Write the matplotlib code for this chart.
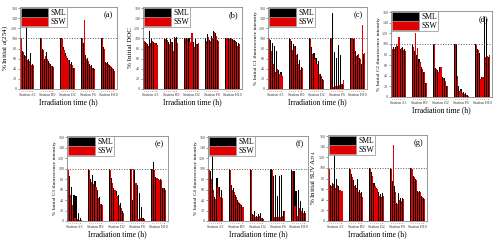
import numpy as np
import matplotlib
matplotlib.use('Agg')
import matplotlib.pyplot as plt
import matplotlib.patches as mpatches

plt.rcParams['font.family'] = ['Liberation Serif', 'DejaVu Serif']
plt.rcParams['mathtext.fontset'] = 'stix'

STATIONS = ['Station A3', 'Station B9', 'Station D2', 'Station F6', 'Station H10']
TIMES = ['0', '2', '4', '6', '8', '10', '12']

# % of initial value, [station][time point]
a254_sml = [[100, 76, 67, 130, 60, 72, 50], [100, 80, 60, 73, 55, 50, 45],
            [100, 82, 72, 62, 57, 53, 42], [100, 90, 68, 62, 50, 48, 42],
            [100, 82, 53, 54, 48, 44, 40]]
a254_ssw = [[100, 74, 66, 58, 55, 48, 47], [100, 78, 65, 60, 52, 45, 43],
            [98, 78, 65, 58, 50, 47, 42], [100, 137, 60, 55, 45, 42, 40],
            [100, 80, 52, 50, 45, 42, 36]]

doc_sml = [[100, 92, 88, 115, 100, 92, 90], [100, 100, 92, 98, 93, 102, 102],
           [100, 100, 100, 92, 92, 100, 88], [100, 108, 97, 104, 115, 110, 97],
           [100, 100, 100, 98, 96, 92, 90]]
doc_ssw = [[95, 90, 84, 91, 95, 90, 86], [98, 97, 88, 92, 75, 100, 90],
           [98, 98, 92, 110, 83, 88, 90], [95, 102, 95, 100, 112, 105, 95],
           [100, 98, 98, 97, 95, 85, 88]]

c1_sml = [[100, 96, 90, 84, 76, 37, 33], [100, 95, 88, 85, 70, 58, 44],
          [100, 82, 72, 62, 55, 30, 20], [100, 151, 74, 62, 86, 67, 10],
          [100, 98, 75, 68, 62, 50, 70]]
c1_ssw = [[99, 76, 50, 33, 40, 30, 25], [98, 78, 85, 68, 50, 38, 42],
          [98, 70, 60, 50, 30, 25, 18], [100, 4, 5, 6, 8, 9, 17],
          [100, 100, 65, 70, 60, 126, 72]]

c2_sml = [[100, 95, 95, 97, 90, 95, 90], [100, 87, 80, 72, 57, 48, 26],
          [100, 55, 50, 56, 38, 35, 20], [100, 100, 20, 15, 10, 7, 3],
          [100, 90, 83, 38, 150, 147, 75]]
c2_ssw = [[90, 90, 100, 113, 92, 88, 87], [95, 121, 92, 65, 52, 48, 26],
          [100, 52, 48, 56, 35, 30, 20], [100, 40, 12, 8, 5, 3, 2],
          [98, 88, 33, 37, 75, 78, 80]]

c3_sml = [[100, 85, 65, 50, 48, 15, 5], [100, 80, 88, 76, 60, 45, 32],
          [100, 82, 62, 58, 50, 35, 20], [100, 40, 98, 68, 53, 27, 5],
          [100, 112, 84, 80, 80, 63, 62]]
c3_ssw = [[98, 50, 30, 5, 3, 2, 2], [98, 75, 70, 64, 44, 32, 30],
          [98, 72, 60, 47, 30, 25, 15], [100, 100, 72, 4, 5, 5, 3],
          [100, 98, 82, 78, 78, 62, 60]]

c4_sml = [[100, 95, 130, 45, 82, 65, 60], [100, 68, 62, 50, 40, 35, 30],
          [100, 14, 20, 10, 13, 15, 5], [100, 85, 88, 48, 85, 87, 20],
          [98, 95, 57, 60, 38, 25, 20]]
c4_ssw = [[97, 80, 60, 42, 65, 45, 44], [98, 60, 55, 45, 37, 32, 27],
          [98, 12, 7, 8, 10, 6, 3], [98, 7, 7, 8, 8, 9, 19],
          [96, 28, 10, 25, 20, 15, 15]]

suva_sml = [[100, 68, 72, 125, 80, 65, 57], [100, 88, 78, 68, 80, 58, 55],
            [100, 92, 72, 62, 55, 50, 52], [100, 76, 65, 33, 53, 43, 44],
            [100, 84, 80, 56, 56, 48, 43]]
suva_ssw = [[98, 66, 70, 62, 68, 58, 56], [98, 82, 65, 62, 55, 52, 46],
            [98, 85, 65, 60, 48, 45, 48], [98, 143, 55, 32, 40, 38, 42],
            [98, 82, 78, 55, 55, 46, 42]]

PANELS = [
    ('(a)', r'% Initial $\mathit{a}$(254)', a254_sml, a254_ssw, (20, 7, 117, 89), 5.0),
    ('(b)', '% Initial DOC', doc_sml, doc_ssw, (143, 7, 242, 89), 5.0),
    ('(c)', '% Initial C1 fluorescence intensity', c1_sml, c1_ssw, (268, 7, 367, 89), 3.8),
    ('(d)', '% Initial C2 fluorescence intensity', c2_sml, c2_ssw, (391, 11, 492, 97), 3.8),
    ('(e)', '% Initial C3 fluorescence intensity', c3_sml, c3_ssw, (67, 136, 168, 221), 3.8),
    ('(f)', '% Initial C4 fluorescence intensity', c4_sml, c4_ssw, (208, 136, 308, 221), 3.8),
    ('(g)', r'% Initial SUVA$_{254}$', suva_sml, suva_ssw, (328, 135, 427, 221), 5.0),
]

W, H = 500, 241
fig = plt.figure(figsize=(W / 100, H / 100), dpi=100, facecolor='white')

GROUP = 20  # slots per station (14 bars + gap)
RED = '#e00000'

for label, ylab, sml, ssw, (x0, y0, x1, y1), ysize in PANELS:
    ax = fig.add_axes([x0 / W, 1 - y1 / H, (x1 - x0) / W, (y1 - y0) / H])
    for g in range(len(STATIONS)):
        base = g * GROUP
        pos = base + np.arange(len(TIMES)) * 2
        ax.bar(pos, sml[g], width=1.1, color='black', linewidth=0)
        ax.bar(pos + 1, ssw[g], width=1.1, color=RED, linewidth=0)
        for i, t in enumerate(TIMES):
            ax.text(pos[i] + 0.5, -3, t, fontsize=1.6, ha='center', va='top', color='#555555')
    ax.axhline(100, color='#555555', linestyle=':', linewidth=0.7)
    ax.set_xlim(-0.6, 95.5)
    ax.set_ylim(0, 162)
    ax.set_yticks(np.arange(0, 161, 20))
    ax.tick_params(axis='y', labelsize=3, length=1.2, width=0.4, pad=0.8, colors='#444444')
    ax.set_xticks([g * GROUP + 6.5 for g in range(len(STATIONS))])
    ax.set_xticklabels(STATIONS, fontsize=2.8, color='#333333')
    ax.tick_params(axis='x', length=0, pad=3.2)
    for sp in ax.spines.values():
        sp.set_color('#888888')
        sp.set_linewidth(0.6)
    ax.set_ylabel(ylab, fontsize=ysize, labelpad=1)
    ax.set_xlabel('Irradiation time (h)', fontsize=5.5, labelpad=0.5)
    ax.text(0.96, 0.95, label, transform=ax.transAxes, ha='right', va='top', fontsize=6)
    handles = [mpatches.Patch(facecolor='black', edgecolor='#999999', linewidth=0.4, label='SML'),
               mpatches.Patch(facecolor=RED, edgecolor='#999999', linewidth=0.4, label='SSW')]
    leg = ax.legend(handles=handles, loc='upper left', fontsize=5.5, frameon=True,
                    handlelength=3.6, handleheight=1.5, borderpad=0.1,
                    labelspacing=0.0, handletextpad=0.3, borderaxespad=0.0,
                    fancybox=False)
    leg.get_frame().set_edgecolor('#888888')
    leg.get_frame().set_linewidth(0.6)

fig.savefig('out.png', dpi=100, facecolor='white')
